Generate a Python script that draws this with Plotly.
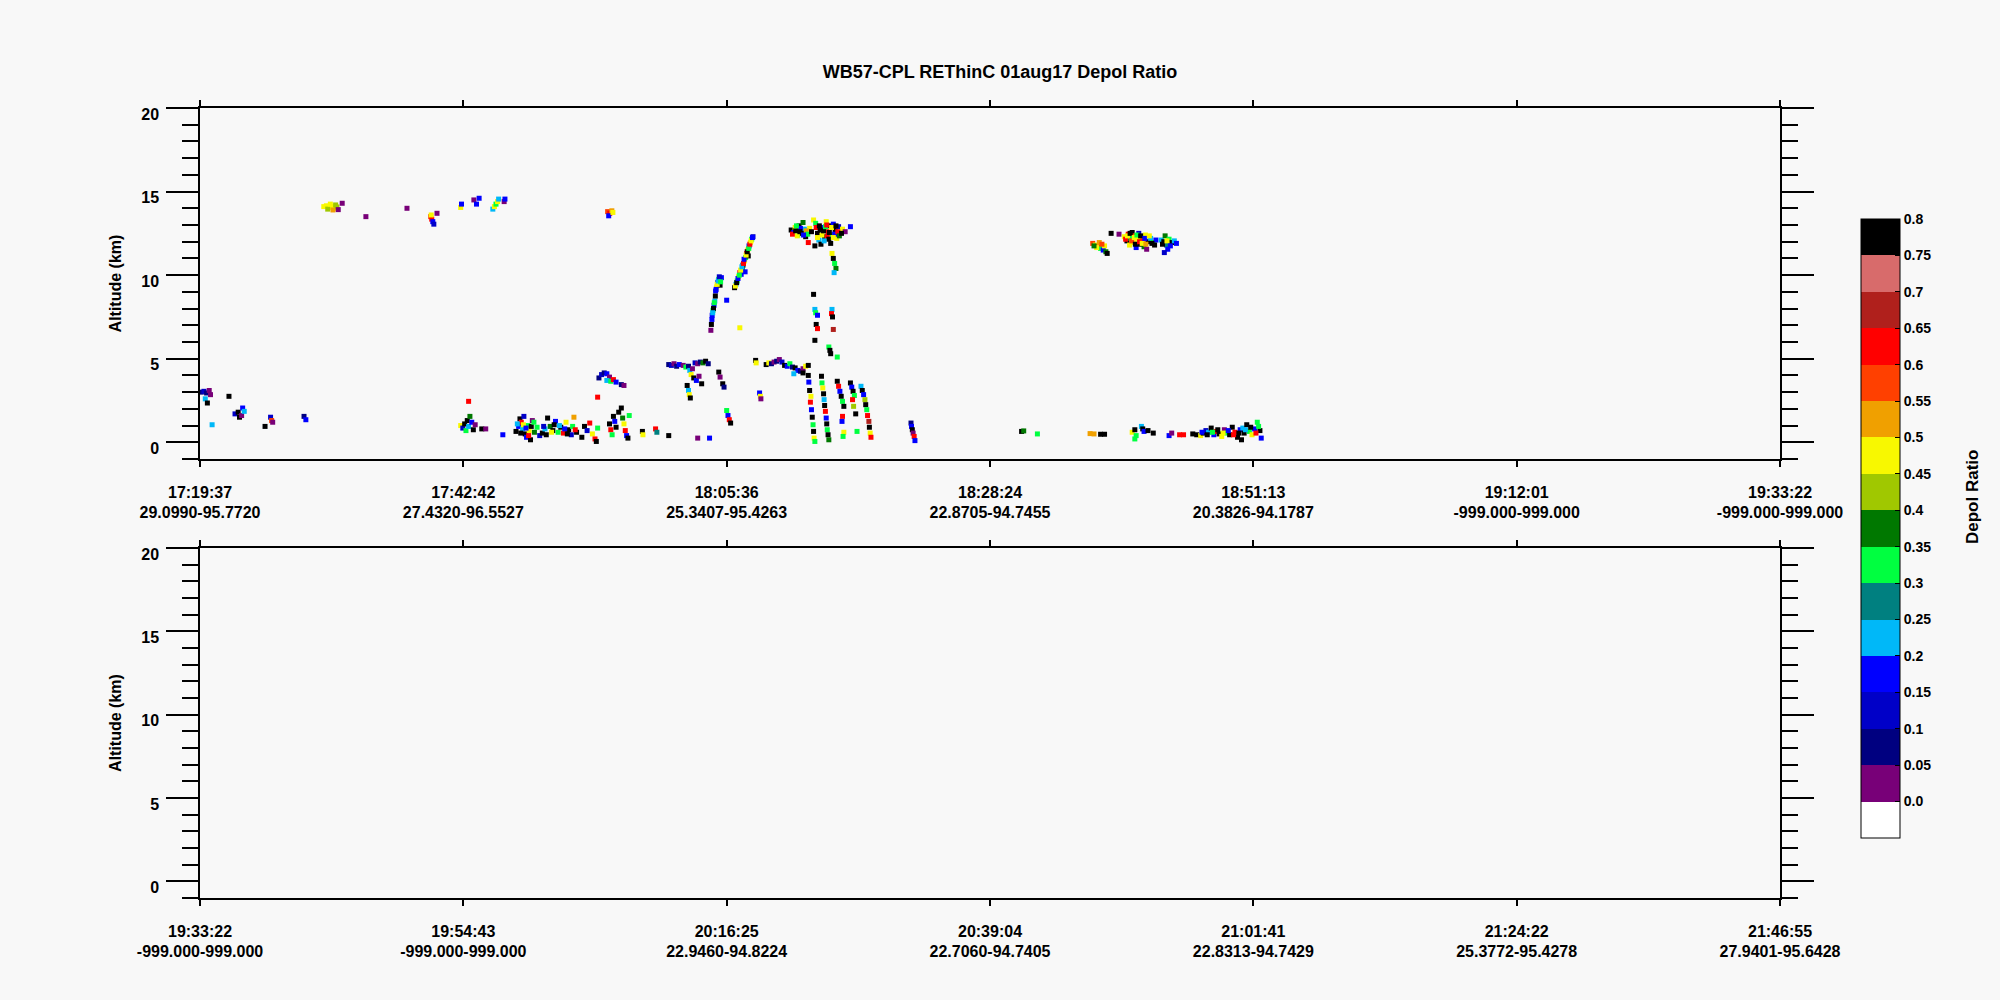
import plotly.graph_objects as go

# ---------------------------------------------------------------
# labels / axes
# ---------------------------------------------------------------
TITLE = "WB57-CPL REThinC 01aug17 Depol Ratio"

tick_pos = [0, 1, 2, 3, 4, 5, 6]
top_times = ["17:19:37", "17:42:42", "18:05:36", "18:28:24",
             "18:51:13", "19:12:01", "19:33:22"]
top_latlon = ["29.0990-95.7720", "27.4320-96.5527", "25.3407-95.4263",
              "22.8705-94.7455", "20.3826-94.1787", "-999.000-999.000",
              "-999.000-999.000"]
bot_times = ["19:33:22", "19:54:43", "20:16:25", "20:39:04",
             "21:01:41", "21:24:22", "21:46:55"]
bot_latlon = ["-999.000-999.000", "-999.000-999.000", "22.9460-94.8224",
              "22.7060-94.7405", "22.8313-94.7429", "25.3772-95.4278",
              "27.9401-95.6428"]
alt_ticks = [0, 5, 10, 15, 20]

# colour bar: bin edges and one colour per bin
depol_edges = [-0.05, 0.0, 0.05, 0.1, 0.15, 0.2, 0.25, 0.3, 0.35, 0.4,
               0.45, 0.5, 0.55, 0.6, 0.65, 0.7, 0.75, 0.8]
depol_labels = ["0.0", "0.05", "0.1", "0.15", "0.2", "0.25", "0.3", "0.35",
                "0.4", "0.45", "0.5", "0.55", "0.6", "0.65", "0.7", "0.75",
                "0.8"]
depol_colors = ["#ffffff", "#780078", "#000080", "#0000c8", "#0000ff",
                "#00b8f8", "#008080", "#00ff40", "#007800", "#a0c800",
                "#f8f800", "#f0a000", "#ff4000", "#ff0000", "#b0201c",
                "#d86b6b", "#000000"]

# ---------------------------------------------------------------
# cloud returns, top panel (x = position between time ticks)
# ---------------------------------------------------------------
# thin cirrus near 14 km
cirrus14_x = [0.470, 0.480, 0.490, 0.500, 0.510, 0.520, 0.485, 0.505, 0.515,
              0.495, 0.525, 0.540, 0.630, 0.786, 0.876, 0.880, 0.884, 0.888,
              0.878, 0.900, 0.990, 0.993, 1.040, 1.050, 1.060, 1.112, 1.118,
              1.124, 1.130, 1.134, 1.155, 1.158, 1.548, 1.556, 1.564, 1.552,
              1.568]
cirrus14_alt = [14.10, 14.15, 14.05, 14.12, 14.00, 14.08, 13.95, 13.90, 14.20,
                14.25, 13.92, 14.30, 13.50, 14.00, 13.50, 13.35, 13.20, 13.05,
                13.60, 13.70, 14.05, 14.25, 14.50, 14.25, 14.60, 13.95, 14.10,
                14.25, 14.40, 14.55, 14.40, 14.55, 13.80, 13.70, 13.85, 13.55,
                13.75]
cirrus14_dr = [0.47, 0.48, 0.46, 0.49, 0.47, 0.45, 0.42, 0.52, 0.44, 0.48,
               0.03, 0.02, 0.04, 0.03, 0.55, 0.62, 0.17, 0.13, 0.47, 0.03,
               0.48, 0.18, 0.03, 0.17, 0.19, 0.23, 0.47, 0.32, 0.48, 0.22,
               0.03, 0.17, 0.57, 0.62, 0.52, 0.17, 0.47]

# rising convective column and anvil top
anvil_x = [1.940, 1.942, 1.945, 1.948, 1.952, 1.955, 1.950, 1.958, 1.962,
           1.966, 1.970, 1.975, 1.980, 2.030, 2.035, 2.040, 2.045, 2.050,
           2.055, 2.060, 2.062, 2.068, 2.072, 2.076, 2.080, 2.085, 2.090,
           2.095, 2.100, 2.070, 2.082, 2.000, 2.050,
           2.245, 2.255, 2.260, 2.270, 2.275, 2.285, 2.290, 2.300, 2.295,
           2.310, 2.315, 2.330, 2.338, 2.345, 2.350, 2.358, 2.365, 2.372,
           2.378, 2.385, 2.392, 2.400, 2.405, 2.412, 2.418, 2.425, 2.432,
           2.440, 2.450, 2.470, 2.335, 2.395,
           2.400, 2.405, 2.410, 2.415, 2.408,
           2.330, 2.335, 2.338, 2.345, 2.340, 2.345, 2.335, 2.400, 2.398,
           2.402, 2.405, 2.388, 2.392, 2.395, 2.420,
           1.944, 1.947, 1.953, 1.957, 1.960, 1.964, 1.968, 1.972, 1.977,
           2.033, 2.038, 2.043, 2.048, 2.053, 2.058, 2.064, 2.066, 2.074,
           2.078, 2.084, 2.088, 2.093, 2.098,
           2.250, 2.262, 2.268, 2.280, 2.288, 2.302, 2.308, 2.322, 2.340,
           2.352, 2.362, 2.368, 2.375, 2.382, 2.388, 2.398, 2.410, 2.415,
           2.422, 2.428, 2.436, 2.345, 2.355, 2.370, 2.380, 2.390, 2.405,
           2.265, 2.278, 2.292]
anvil_alt = [6.70, 7.05, 7.60, 7.90, 8.20, 8.45, 8.00, 9.05, 9.30,
             9.55, 9.75, 9.40, 9.85, 9.25, 9.45, 9.65, 9.90, 10.15,
             10.05, 10.35, 10.60, 10.85, 11.05, 11.30, 11.50, 11.75, 11.95,
             12.15, 12.30, 10.20, 11.15, 8.50, 6.85,
             12.70, 12.55, 12.85, 12.40, 12.95, 12.60, 13.15, 12.30, 12.75,
             11.95, 12.80, 13.30, 13.10, 12.50, 12.10, 11.85, 12.85, 12.30,
             13.20, 12.60, 12.95, 12.40, 13.05, 12.70, 12.20, 12.90, 12.55,
             12.75, 12.60, 12.90, 11.75, 11.90,
             11.30, 11.00, 10.70, 10.40, 10.15,
             8.85, 7.95, 7.75, 7.60, 7.05, 6.80, 6.10, 7.95, 7.70,
             7.50, 6.75, 5.70, 5.50, 5.30, 5.10,
             7.35, 7.75, 8.35, 8.75, 9.15, 9.45, 9.65, 9.90, 9.60,
             9.35, 9.55, 9.80, 10.00, 10.30, 10.50, 10.70, 10.95, 11.20,
             11.40, 11.60, 11.85, 12.05, 12.25,
             12.45, 12.65, 12.35, 12.80, 12.50, 12.65, 12.45, 12.60, 12.85,
             12.95, 12.40, 12.65, 12.90, 12.30, 12.15, 12.85, 12.45, 12.95,
             12.60, 12.35, 12.50, 12.25, 12.70, 12.05, 13.00, 12.55, 12.25,
             12.95, 12.60, 12.40]
anvil_dr = [0.02, 0.78, 0.18, 0.33, 0.17, 0.23, 0.78, 0.17, 0.48,
            0.20, 0.33, 0.78, 0.17, 0.78, 0.23, 0.33, 0.47, 0.62,
            0.17, 0.38, 0.78, 0.48, 0.33, 0.62, 0.47, 0.17, 0.48,
            0.33, 0.13, 0.17, 0.78, 0.18, 0.47,
            0.78, 0.17, 0.48, 0.33, 0.78, 0.62, 0.38, 0.78, 0.23,
            0.62, 0.47, 0.48, 0.33, 0.78, 0.23, 0.78, 0.17, 0.78,
            0.47, 0.62, 0.78, 0.33, 0.18, 0.78, 0.48, 0.13, 0.78,
            0.48, 0.03, 0.17, 0.78, 0.78,
            0.47, 0.78, 0.33, 0.38, 0.23,
            0.78, 0.23, 0.33, 0.17, 0.78, 0.62, 0.78, 0.23, 0.62,
            0.78, 0.68, 0.33, 0.78, 0.78, 0.33,
            0.17, 0.23, 0.33, 0.78, 0.17, 0.47, 0.23, 0.13, 0.33,
            0.47, 0.78, 0.17, 0.33, 0.48, 0.23, 0.62, 0.17, 0.47,
            0.78, 0.33, 0.62, 0.47, 0.17,
            0.62, 0.78, 0.47, 0.17, 0.78, 0.52, 0.33, 0.78, 0.62,
            0.78, 0.47, 0.78, 0.33, 0.62, 0.78, 0.47, 0.17, 0.78,
            0.62, 0.38, 0.78, 0.47, 0.78, 0.23, 0.62, 0.78, 0.48,
            0.33, 0.78, 0.17]

# mid-level layer 4-5 km
mid_x = [1.780, 1.790, 1.800, 1.810, 1.820, 1.835, 1.845, 1.855, 1.860,
         1.870, 1.880, 1.890, 1.900, 1.910, 1.920, 1.930, 1.865, 1.875,
         1.885, 1.895, 1.850, 1.855, 1.858, 1.862, 1.905, 2.110, 2.112,
         2.150, 2.160, 2.170, 2.180, 2.190, 2.200, 2.210, 2.220, 2.230,
         2.240, 2.250, 2.260, 2.270, 2.280, 2.290, 2.300, 2.310, 2.255,
         2.290, 1.970, 1.975, 1.985, 1.990, 2.125, 2.128, 2.130,
         1.515, 1.525, 1.535, 1.545, 1.555, 1.545, 1.560, 1.570, 1.580,
         1.600, 1.610, 1.510, 1.020]
mid_alt = [4.65, 4.60, 4.70, 4.55, 4.65, 4.60, 4.50, 4.55, 4.30,
           4.40, 4.75, 4.70, 4.80, 4.75, 4.85, 4.70, 4.05, 3.85,
           3.70, 3.95, 3.40, 3.10, 2.85, 2.65, 3.50, 4.90, 4.75,
           4.65, 4.75, 4.70, 4.80, 4.85, 4.95, 4.80, 4.60, 4.55,
           4.70, 4.50, 4.45, 4.30, 4.25, 4.40, 4.55, 4.60, 4.10,
           4.15, 4.20, 3.90, 3.50, 3.30, 2.95, 2.75, 2.60,
           3.85, 4.05, 4.15, 4.10, 3.90, 3.70, 3.65, 3.75, 3.60,
           3.45, 3.40, 2.70, 2.45]
mid_dr = [0.08, 0.13, 0.03, 0.08, 0.17, 0.04, 0.33, 0.08, 0.23,
          0.03, 0.13, 0.04, 0.08, 0.38, 0.78, 0.08, 0.47, 0.78,
          0.17, 0.04, 0.78, 0.23, 0.47, 0.78, 0.78, 0.78, 0.47,
          0.78, 0.47, 0.08, 0.03, 0.08, 0.04, 0.13, 0.78, 0.17,
          0.33, 0.08, 0.78, 0.17, 0.08, 0.04, 0.47, 0.78, 0.23,
          0.78, 0.78, 0.03, 0.78, 0.08, 0.17, 0.47, 0.03,
          0.08, 0.13, 0.08, 0.17, 0.04, 0.23, 0.33, 0.62, 0.17,
          0.08, 0.03, 0.62, 0.62]

# precipitation / fall streaks under the column
streak_x = [2.310, 2.312, 2.315, 2.320, 2.318, 2.322, 2.325, 2.328, 2.330,
            2.332, 2.335, 2.360, 2.362, 2.365, 2.368, 2.370, 2.372, 2.375,
            2.378, 2.380, 2.382, 2.385, 2.388, 2.420, 2.425, 2.430, 2.435,
            2.440, 2.445, 2.440, 2.438, 2.445, 2.442, 2.470, 2.475, 2.480,
            2.485, 2.478, 2.482, 2.490, 2.495, 2.510, 2.515, 2.520, 2.525,
            2.528, 2.532, 2.535, 2.540, 2.542, 2.545, 2.548,
            2.000, 2.005, 2.010, 2.015]
streak_alt = [4.00, 3.60, 3.10, 2.75, 2.40, 1.95, 1.50, 1.05, 0.65,
              0.25, 0.05, 3.95, 3.55, 3.25, 2.90, 2.55, 2.20, 1.85,
              1.45, 1.10, 0.75, 0.45, 0.15, 3.65, 3.35, 3.05, 2.75,
              2.45, 2.15, 1.55, 1.25, 0.60, 0.35, 3.55, 3.30, 3.05,
              2.80, 2.55, 2.15, 1.70, 0.65, 3.35, 3.10, 2.85, 2.55,
              2.25, 1.95, 1.60, 1.25, 0.90, 0.55, 0.30,
              1.90, 1.60, 1.35, 1.15]
streak_dr = [0.78, 0.17, 0.78, 0.47, 0.62, 0.17, 0.78, 0.33, 0.78,
             0.47, 0.33, 0.78, 0.33, 0.47, 0.78, 0.23, 0.78, 0.62,
             0.17, 0.78, 0.33, 0.78, 0.38, 0.78, 0.62, 0.17, 0.78,
             0.33, 0.78, 0.62, 0.17, 0.47, 0.33, 0.78, 0.17, 0.78,
             0.33, 0.62, 0.42, 0.78, 0.33, 0.23, 0.78, 0.17, 0.42,
             0.78, 0.33, 0.62, 0.65, 0.78, 0.47, 0.62,
             0.33, 0.17, 0.62, 0.78]

# boundary-layer clouds, first half of leg
low1_x = [0.005, 0.015, 0.025, 0.035, 0.040, 0.020, 0.028, 0.110, 0.046,
          0.133, 0.145, 0.150, 0.158, 0.162, 0.168, 0.247, 0.268, 0.272,
          0.276, 0.395, 0.402,
          0.990, 0.998, 1.005, 1.010, 1.015, 1.020, 1.025, 1.032, 1.038,
          1.045, 1.070, 1.085, 1.150,
          1.200, 1.210, 1.215, 1.220, 1.225, 1.230, 1.235, 1.240, 1.245,
          1.250, 1.255, 1.262, 1.270, 1.280, 1.290,
          1.300, 1.310, 1.320, 1.330, 1.340, 1.350, 1.360, 1.370, 1.380,
          1.390, 1.400, 1.410, 1.420, 1.430,
          1.450, 1.460, 1.470, 1.480, 1.490, 1.500, 1.505, 1.510,
          1.555, 1.560, 1.565, 1.570, 1.575, 1.580, 1.590, 1.600, 1.605,
          1.610, 1.615, 1.620, 1.625, 1.630,
          1.680, 1.682, 1.730, 1.735, 1.780, 1.890, 1.935,
          1.205, 1.218, 1.228, 1.238, 1.248, 1.258, 1.268, 1.305, 1.315,
          1.335, 1.345, 1.365, 1.385, 1.395, 1.415, 1.425]
low1_alt = [3.00, 3.05, 2.95, 3.10, 2.85, 2.60, 2.35, 2.75, 1.05,
            1.70, 1.80, 1.50, 1.60, 2.05, 1.85, 0.95, 1.50, 1.30,
            1.20, 1.55, 1.35,
            1.00, 0.85, 1.10, 0.70, 1.30, 0.95, 1.55, 1.20, 0.75,
            1.05, 0.80, 0.80, 0.45,
            0.65, 0.95, 1.40, 1.20, 0.80, 1.55, 0.50, 0.30, 1.00,
            0.70, 0.15, 1.30, 0.60, 0.90, 0.40,
            0.55, 0.80, 1.45, 0.95, 0.70, 1.25, 0.60, 0.90, 0.55,
            1.20, 0.75, 0.45, 1.50, 0.60,
            0.30, 0.95, 0.70, 1.15, 0.50, 0.20, 0.05, 0.85,
            1.10, 0.75, 0.45, 1.55, 1.25, 0.90, 1.80, 2.05, 1.45,
            1.10, 0.70, 0.40, 0.25, 1.60,
            0.65, 0.45, 0.80, 0.60, 0.40, 0.25, 0.25,
            1.10, 0.55, 1.05, 0.85, 0.40, 0.95, 1.20, 0.95, 0.45,
            0.60, 1.05, 1.00, 0.80, 0.50, 0.95, 0.75]
low1_dr = [0.08, 0.13, 0.08, 0.04, 0.03, 0.23, 0.78, 0.78, 0.23,
           0.13, 0.78, 0.78, 0.03, 0.17, 0.23, 0.78, 0.13, 0.58,
           0.03, 0.08, 0.17,
           0.47, 0.13, 0.78, 0.33, 0.78, 0.23, 0.38, 0.17, 0.78,
           0.03, 0.78, 0.03, 0.17,
           0.78, 0.17, 0.78, 0.62, 0.23, 0.13, 0.78, 0.17, 0.33,
           0.47, 0.78, 0.03, 0.38, 0.33, 0.13,
           0.78, 0.23, 0.78, 0.38, 0.78, 0.17, 0.33, 0.78, 0.62,
           0.47, 0.78, 0.13, 0.52, 0.78,
           0.78, 0.78, 0.13, 0.62, 0.47, 0.62, 0.78, 0.33,
           0.78, 0.62, 0.33, 0.78, 0.17, 0.78, 0.78, 0.78, 0.38,
           0.47, 0.62, 0.17, 0.78, 0.33,
           0.78, 0.47, 0.62, 0.28, 0.78, 0.03, 0.17,
           0.23, 0.78, 0.47, 0.17, 0.62, 0.78, 0.33, 0.13, 0.78,
           0.47, 0.78, 0.23, 0.17, 0.78, 0.33, 0.62]

# boundary-layer clouds, second half of leg
low2_x = [2.700, 2.702, 2.705, 2.708, 2.712, 2.715,
          3.120, 3.128, 3.180,
          3.380, 3.395, 3.420, 3.435,
          3.540, 3.550, 3.555, 3.575, 3.580, 3.585, 3.600, 3.620, 3.550,
          3.680, 3.690, 3.720, 3.735, 3.770, 3.785,
          3.800, 3.810, 3.820, 3.830, 3.840, 3.850, 3.860, 3.870, 3.880,
          3.890, 3.900, 3.910, 3.920, 3.930, 3.940, 3.950, 3.960, 3.965,
          3.975, 3.985, 3.995, 4.005, 4.015, 4.025, 4.030, 3.955,
          3.805, 3.825, 3.845, 3.865, 3.885, 3.905, 3.925, 3.945, 3.970,
          3.990, 4.010, 4.020]
low2_alt = [1.15, 0.95, 0.75, 0.55, 0.35, 0.10,
            0.65, 0.68, 0.50,
            0.52, 0.50, 0.48, 0.48,
            0.60, 0.75, 0.40, 0.95, 0.80, 0.65, 0.70, 0.55, 0.20,
            0.40, 0.55, 0.45, 0.45, 0.50, 0.45,
            0.40, 0.55, 0.70, 0.60, 0.85, 0.45, 0.65, 0.50, 0.35,
            0.75, 0.55, 0.45, 0.90, 0.60, 0.30, 0.75, 0.85, 0.55,
            1.05, 0.65, 0.45, 0.80, 1.20, 0.70, 0.25, 0.15,
            0.60, 0.45, 0.60, 0.75, 0.55, 0.70, 0.45, 0.55, 0.75,
            0.90, 0.55, 0.95]
low2_dr = [0.08, 0.17, 0.78, 0.03, 0.62, 0.17,
           0.78, 0.38, 0.33,
           0.52, 0.52, 0.78, 0.78,
           0.47, 0.78, 0.33, 0.23, 0.78, 0.17, 0.78, 0.78, 0.33,
           0.17, 0.03, 0.62, 0.62, 0.78, 0.78,
           0.48, 0.78, 0.13, 0.23, 0.78, 0.17, 0.62, 0.78, 0.47,
           0.03, 0.33, 0.78, 0.78, 0.62, 0.78, 0.17, 0.23, 0.78,
           0.78, 0.33, 0.47, 0.17, 0.33, 0.78, 0.17, 0.78,
           0.17, 0.78, 0.33, 0.78, 0.47, 0.17, 0.62, 0.78, 0.23,
           0.78, 0.62, 0.33]

# cirrus near 12 km
cirrus12_x = [3.390, 3.400, 3.410, 3.420, 3.430, 3.440, 3.445, 3.415, 3.435,
              3.460, 3.490,
              3.510, 3.520, 3.525, 3.530, 3.535, 3.540, 3.545, 3.550, 3.555,
              3.560, 3.565, 3.570, 3.575, 3.580, 3.585, 3.590, 3.600, 3.610,
              3.620, 3.630, 3.625, 3.595,
              3.650, 3.660, 3.665, 3.670, 3.675, 3.680, 3.690, 3.700, 3.708,
              3.662,
              3.515, 3.522, 3.532, 3.538, 3.548, 3.552, 3.558, 3.568, 3.572,
              3.578, 3.588, 3.592, 3.605, 3.615, 3.405, 3.425, 3.395, 3.655,
              3.672, 3.685]
cirrus12_alt = [11.90, 11.80, 11.70, 11.60, 11.50, 11.40, 11.30, 11.95, 11.75,
                12.50, 12.45,
                12.30, 12.05, 12.45, 11.80, 12.20, 12.55, 11.95, 12.35, 11.65,
                12.15, 12.50, 11.85, 12.25, 12.05, 11.70, 12.40, 12.00, 12.20,
                11.95, 12.10, 11.80, 11.55,
                12.10, 12.00, 12.35, 11.80, 11.55, 12.15, 11.95, 12.05, 11.90,
                11.35,
                12.15, 12.35, 12.50, 12.05, 12.25, 11.85, 12.40, 12.00, 12.35,
                11.90, 12.20, 11.85, 12.35, 11.90, 11.65, 11.85, 11.75, 11.85,
                12.05, 11.75]
cirrus12_dr = [0.57, 0.48, 0.62, 0.33, 0.17, 0.38, 0.78, 0.53, 0.47,
               0.78, 0.03,
               0.48, 0.78, 0.62, 0.48, 0.33, 0.78, 0.47, 0.57, 0.17,
               0.48, 0.13, 0.78, 0.47, 0.62, 0.38, 0.48, 0.78, 0.23,
               0.33, 0.17, 0.78, 0.02,
               0.23, 0.78, 0.38, 0.28, 0.17, 0.33, 0.78, 0.23, 0.17,
               0.13,
               0.62, 0.47, 0.78, 0.57, 0.48, 0.78, 0.33, 0.62, 0.78,
               0.47, 0.17, 0.52, 0.48, 0.78, 0.47, 0.57, 0.38, 0.78,
               0.48, 0.17]

cloud_x = (cirrus14_x + anvil_x + mid_x + streak_x + low1_x + low2_x
           + cirrus12_x)
cloud_alt = (cirrus14_alt + anvil_alt + mid_alt + streak_alt + low1_alt
             + low2_alt + cirrus12_alt)
cloud_dr = (cirrus14_dr + anvil_dr + mid_dr + streak_dr + low1_dr + low2_dr
            + cirrus12_dr)

# ---------------------------------------------------------------
# figure
# ---------------------------------------------------------------
BG = "#f8f8f8"
FONT = "Liberation Sans"

# plot area in pixels (2000 x 1000 page)
L, R, T, B = 200, 220, 108, 102
plot_h = 1000 - T - B

n_bins = len(depol_colors)
colorscale = []
for i, c in enumerate(depol_colors):
    colorscale.append([i / n_bins, c])
    colorscale.append([(i + 1) / n_bins, c])

fig = go.Figure()

fig.add_trace(go.Scatter(
    x=cloud_x, y=cloud_alt, mode="markers", xaxis="x", yaxis="y",
    hoverinfo="skip", showlegend=False,
    marker=dict(
        symbol="square", size=5, line=dict(width=0),
        color=cloud_dr, colorscale=colorscale,
        cmin=depol_edges[0], cmax=depol_edges[-1],
        colorbar=dict(
            x=(1861 - L) / 1580, xanchor="left",
            y=(1000 - B - 219) / plot_h, yanchor="top",
            len=619 / plot_h, lenmode="fraction",
            thickness=39, thicknessmode="pixels",
            xpad=0, ypad=0,
            outlinecolor="black", outlinewidth=1,
            tickvals=depol_edges[1:], ticktext=depol_labels,
            ticks="inside", ticklen=5, tickcolor="black",
            tickfont=dict(family=FONT, size=14, color="black",
                          weight="bold"),
        ),
    ),
))

# bottom panel has no returns
fig.add_trace(go.Scatter(x=[], y=[], mode="markers", xaxis="x2",
                         yaxis="y2", showlegend=False, hoverinfo="skip"))


def alt_axis(domain, anchor):
    return dict(
        domain=domain, anchor=anchor, range=[-1, 20],
        tickvals=alt_ticks,
        ticks="outside", ticklen=32, tickwidth=1.5,
        tickcolor="black", showline=True, linecolor="black", linewidth=1.5,
        mirror="ticks", showgrid=False, zeroline=False,
        # numbers sit a little below their ticks
        ticklabelstandoff=4, ticklabelshift=6,
        minor=dict(tick0=0, dtick=1, ticks="outside", ticklen=16,
                   tickwidth=1.5, tickcolor="black", showgrid=False),
        tickfont=dict(family=FONT, size=16, color="black", weight="bold"),
        title=dict(text="Altitude (km)", standoff=16,
                   font=dict(family=FONT, size=16, color="black",
                             weight="bold")),
    )


def time_axis(anchor, labels, standoff, ticklen, **extra):
    ax = dict(
        domain=[0, 1], anchor=anchor, range=[0, 6],
        tickvals=tick_pos, ticktext=labels,
        ticks="outside" if ticklen else "", ticklen=ticklen, tickwidth=1.5,
        tickcolor="black", showgrid=False, zeroline=False,
        ticklabelstandoff=standoff,
        tickfont=dict(family=FONT, size=16, color="black", weight="bold"),
    )
    ax.update(extra)
    return ax


frame = dict(showline=True, linecolor="black", linewidth=1.5,
             mirror="ticks")

fig.update_layout(
    width=2000, height=1000,
    paper_bgcolor=BG, plot_bgcolor=BG,
    font=dict(family=FONT, size=16, color="black", weight="bold"),
    margin=dict(l=L, r=R, t=T, b=B),
    # time labels on the frame axes, lat/lon on overlaid label-only axes
    xaxis=time_axis("y", top_times, 12, 6, **frame),
    xaxis2=time_axis("y2", bot_times, 12, 6, **frame),
    xaxis3=time_axis("y", top_latlon, 42, 0, overlaying="x",
                     showline=False),
    xaxis4=time_axis("y2", bot_latlon, 42, 0, overlaying="x2",
                     showline=False),
    yaxis=alt_axis([(1000 - B - 459) / plot_h, 1.0], "x"),
    yaxis2=alt_axis([0.0, (1000 - B - 548) / plot_h], "x2"),
    title=dict(text=TITLE, x=0.5, xanchor="center", xref="container",
               y=0.928, yanchor="middle", yref="container",
               font=dict(family=FONT, size=18, color="black",
                         weight="bold")),
    annotations=[dict(
        text="Depol Ratio", textangle=-90, showarrow=False,
        xref="paper", yref="paper",
        x=(1973 - L) / 1580, y=(1000 - B - 497) / plot_h,
        xanchor="center", yanchor="middle",
        font=dict(family=FONT, size=17, color="black", weight="bold"),
    )],
)

# label-only axes need a trace each to be drawn
fig.add_trace(go.Scatter(x=[], y=[], xaxis="x3", yaxis="y",
                         showlegend=False, hoverinfo="skip"))
fig.add_trace(go.Scatter(x=[], y=[], xaxis="x4", yaxis="y2",
                         showlegend=False, hoverinfo="skip"))

# no page margin around the figure, no mode bar
fig.write_html("out.html", config={"displayModeBar": False},
               post_script="document.body.style.margin = '0px';")
